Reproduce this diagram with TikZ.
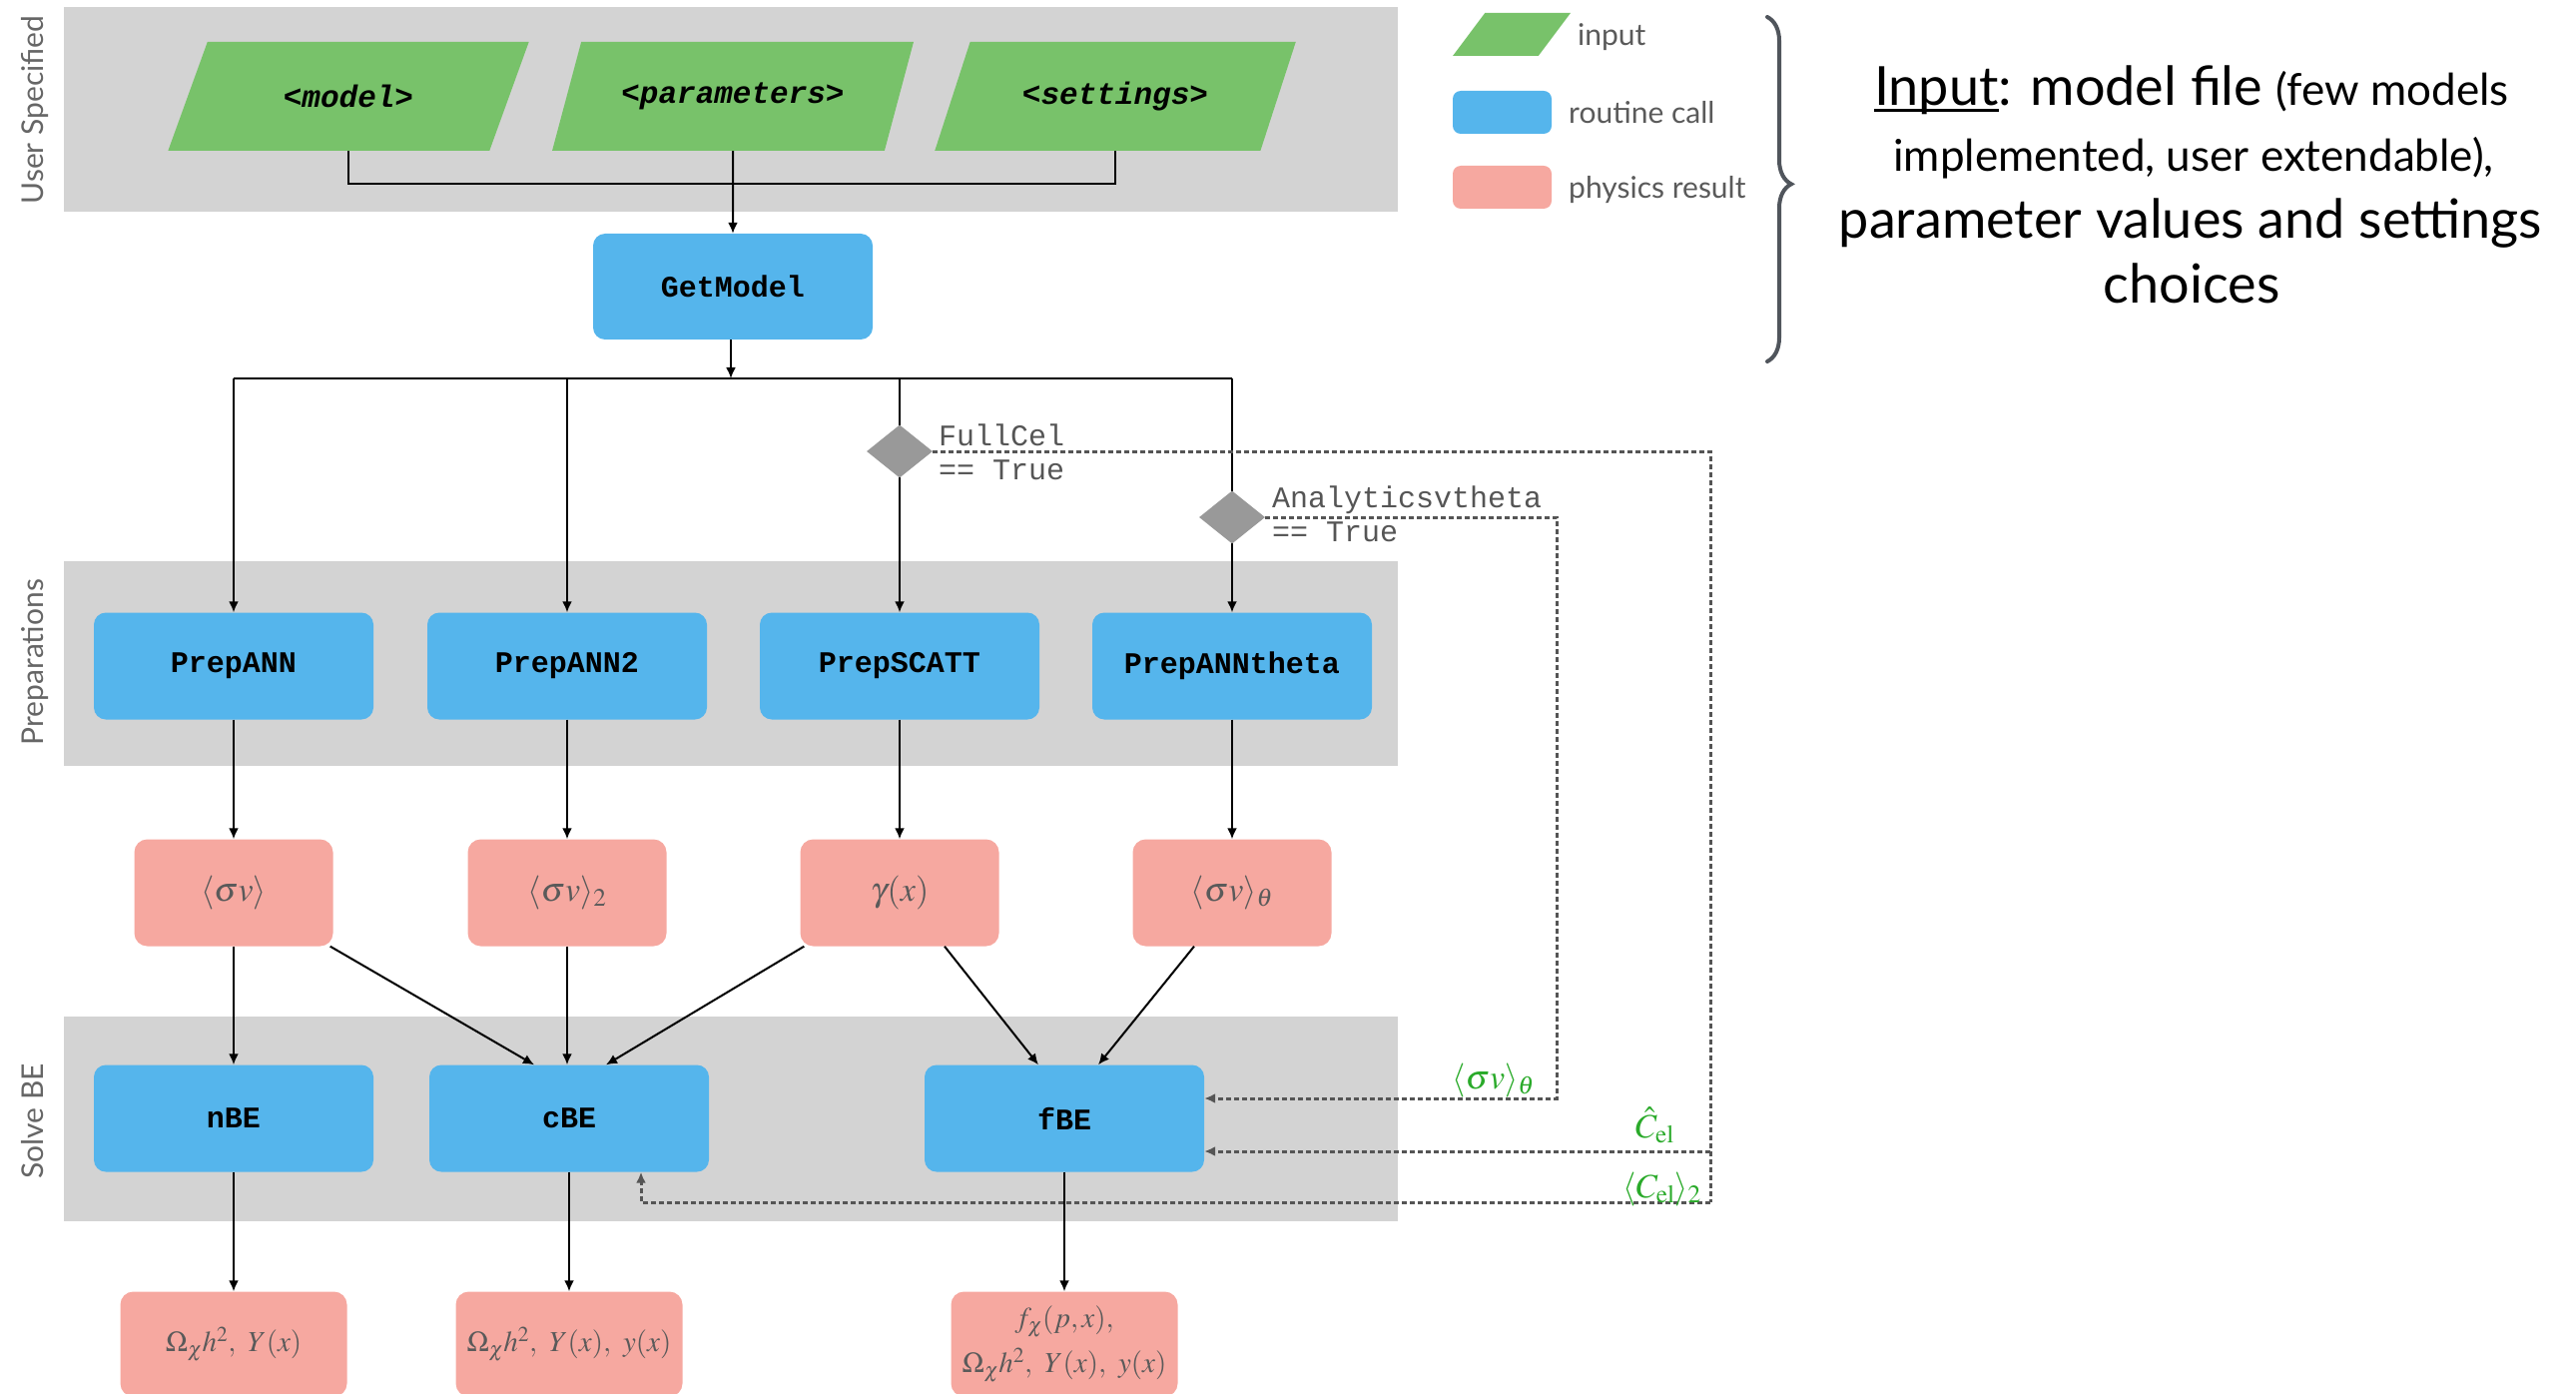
\documentclass[tikz,border=0pt]{standalone}
\usepackage{mathptmx}
\usepackage[no-math]{fontspec}
\usetikzlibrary{shapes.geometric,arrows.meta,decorations.pathreplacing,calc}
\newfontfamily\gillfont{Lato}
\newfontfamily\codefont{Liberation Mono}

% underline close to the baseline, as in a slide heading
\newcommand\headul[1]{\setbox0\hbox{#1}\rlap{\rule[-6pt]{\wd0}{3pt}}\box0}

\definecolor{bandgray}{HTML}{D3D3D3}
\definecolor{ingreen}{HTML}{78C26A}
\definecolor{callblue}{HTML}{55B5EC}
\definecolor{respink}{HTML}{F6A8A0}
\definecolor{diagray}{HTML}{999999}
\definecolor{dotgray}{HTML}{555555}
\definecolor{labgray}{HTML}{666666}
\definecolor{mathgray}{HTML}{5A5A5A}
\definecolor{labgreen}{HTML}{2AAA2A}
\definecolor{bracegray}{HTML}{50555C}

\tikzset{
  bandlabel/.style={rotate=90, anchor=base, text=labgray, font=\gillfont\fontsize{30}{36}\selectfont},
  inputbox/.style={trapezium, trapezium left angle=55, trapezium right angle=125,
    trapezium stretches=true, fill=ingreen, minimum width=362pt, minimum height=109pt,
    inner sep=2pt, font=\codefont\bfseries\itshape\fontsize{31}{36}\selectfont},
  callbox/.style={rectangle, rounded corners=12pt, fill=callblue, minimum width=280pt,
    minimum height=107pt, inner sep=0pt, font=\codefont\bfseries\fontsize{30}{36}\selectfont},
  resbox/.style={rectangle, rounded corners=13pt, fill=respink, minimum width=199pt,
    minimum height=107pt, inner sep=0pt, text=mathgray, font=\fontsize{34}{42}\selectfont},
  outbox/.style={resbox, minimum width=227pt, minimum height=105pt, font=\fontsize{29}{40}\selectfont},
  cond/.style={diamond, fill=diagray, minimum width=66pt, minimum height=53pt, inner sep=0pt},
  condtext/.style={anchor=base west, text=dotgray, inner sep=0pt, font=\codefont\fontsize{30}{36}\selectfont},
  wire/.style={line width=2pt, draw=black},
  arr/.style={wire, -{Latex[length=11pt,width=10pt]}},
  dotline/.style={draw=dotgray, line width=3pt, dash pattern=on 5pt off 3pt},
  dotarr/.style={dotline, -{Latex[length=11pt,width=10pt]}},
  greenlab/.style={anchor=base east, inner sep=0pt, text=labgreen, font=\fontsize{34}{40}\selectfont},
  legtext/.style={anchor=base west, inner sep=0pt, text=mathgray, font=\gillfont\fontsize{30}{36}\selectfont},
  bigtext/.style={anchor=base, inner sep=0pt, text=black, font=\gillfont\fontsize{54}{64}\selectfont},
}

\begin{document}
\begin{tikzpicture}[x=1pt,y=-1pt]
\useasboundingbox (0,0) rectangle (2580,1396);

% stage bands
\fill[bandgray] (64,7) rectangle (1400,212);
\fill[bandgray] (64,562) rectangle (1400,767);
\fill[bandgray] (64,1018) rectangle (1400,1223);
\node[bandlabel] (lbUser) at (43,110) {User Specified};
\node[bandlabel] (lbPrep) at (43,663) {Preparations};
\node[bandlabel] (lbSolve) at (43,1123) {Solve BE};

% inputs
\node[inputbox] (model) at (349,96.5) {<model>};
\node[inputbox] (params) at (734,96.5) {<parameters>};
\node[inputbox] (sett) at (1117,96.5) {<settings>};
\coordinate (join) at (734,184);

% model setup
\node[callbox, minimum height=106pt] (getmodel) at (734,287) {GetModel};
\coordinate (bus) at (734,379);

% preparation routines
\node[callbox] (pann) at (234,667) {PrepANN};
\node[callbox] (pann2) at (568,667) {PrepANN2};
\node[callbox] (pscatt) at (901,667) {PrepSCATT};
\node[callbox] (ptheta) at (1234,667) {PrepANNtheta};

% intermediate physics results
\node[resbox] (sv) at (234,894) {$\langle\sigma v\rangle$};
\node[resbox] (sv2) at (568,894) {$\langle\sigma v\rangle_2$};
\node[resbox] (gam) at (901,894) {$\gamma(x)$};
\node[resbox] (svt) at (1234,894) {$\langle\sigma v\rangle_\theta$};

% Boltzmann equation solvers
\node[callbox] (nbe) at (234,1120) {nBE};
\node[callbox] (cbe) at (570,1120) {cBE};
\node[callbox] (fbe) at (1066,1120) {fBE};

% final outputs
\node[outbox] (onbe) at (234,1346) {$\Omega_\chi h^2,\ Y(x)$};
\node[outbox] (ocbe) at (570,1346) {$\Omega_\chi h^2,\ Y(x),\ y(x)$};
\node[outbox, align=center] (ofbe) at (1066,1346) {$f_\chi(p,x),$\\[5pt]$\Omega_\chi h^2,\ Y(x),\ y(x)$};

% input wiring
\draw[wire] (model.south) -- (model.south |- join) -- (sett.south |- join) -- (sett.south);
\draw[arr] (params.south) -- (getmodel.north);
\draw[arr] ([xshift=-2pt]getmodel.south) -- ([xshift=-2pt]bus);
\draw[wire] (pann.north |- bus) -- (ptheta.north |- bus);
\draw[arr] (pann.north |- bus) -- (pann.north);
\draw[arr] (pann2.north |- bus) -- (pann2.north);
\draw[arr] (pscatt.north |- bus) -- (pscatt.north);
\draw[arr] (ptheta.north |- bus) -- (ptheta.north);

% switches
\node[cond] (fullcel) at (901,452) {};
\node[cond] (anth) at (1234,518) {};
\node[condtext] (fctxt1) at (940,446) {FullCel};
\node[condtext] (fctxt2) at (940,480) {== True};
\node[condtext] (antxt1) at (1274,508) {Analyticsvtheta};
\node[condtext] (antxt2) at (1274,542) {== True};

% preparation outputs
\draw[arr] (pann.south) -- (sv.north);
\draw[arr] (pann2.south) -- (sv2.north);
\draw[arr] (pscatt.south) -- (gam.north);
\draw[arr] (ptheta.south) -- (svt.north);

% feeding the solvers
\draw[arr] (sv.south) -- (nbe.north);
\draw[arr] ([xshift=-3pt]sv.south east) -- ([xshift=-35pt]cbe.north);
\draw[arr] (sv2.south) -- ([xshift=-2pt]cbe.north);
\draw[arr] ([xshift=4pt]gam.south west) -- ([xshift=37pt]cbe.north);
\draw[arr] ([xshift=45pt]gam.south) -- ([xshift=-26pt]fbe.north);
\draw[arr] ([xshift=-38pt]svt.south) -- ([xshift=34pt]fbe.north);

% solver outputs
\draw[arr] (nbe.south) -- (onbe.north);
\draw[arr] (cbe.south) -- (ocbe.north);
\draw[arr] (fbe.south) -- (ofbe.north);

% optional inputs
\coordinate (thetaDrop) at (1559,1100);
\coordinate (celDrop) at (1713,1204);
\draw[dotarr] (anth.east) -| (thetaDrop) -- ([yshift=20pt]fbe.east);
\draw[dotline] (fullcel.east) -| (celDrop);
\draw[dotarr] (celDrop |- 0,1153) -- ([yshift=-33pt]fbe.east);
\draw[dotarr] (celDrop) -| ([xshift=72pt]cbe.south);
\node[greenlab] (lsvt) at (1537,1090) {$\langle\sigma v\rangle_\theta$};
\node[greenlab] (lcel) at (1677,1139) {$\hat C_{\mathrm{el}}$};
\node[greenlab] (lcel2) at (1704,1199) {$\langle C_{\mathrm{el}}\rangle_2$};

% legend
\node[trapezium, trapezium left angle=59, trapezium right angle=121, trapezium stretches=true,
  fill=ingreen, minimum width=118pt, minimum height=43pt, inner sep=2pt] (legIn) at (1514,34.5) {};
\node[rectangle, rounded corners=8pt, fill=callblue, minimum width=99pt, minimum height=43pt] (legCall) at (1504.5,112.5) {};
\node[rectangle, rounded corners=8pt, fill=respink, minimum width=99pt, minimum height=43pt] (legRes) at (1504.5,187.5) {};
\node[legtext] (legInT) at (1580,46) {input};
\node[legtext] (legCallT) at (1571,124) {routine call};
\node[legtext] (legResT) at (1571,199) {physics result};

% brace and description
\draw[bracegray, line width=4pt, line cap=round, decorate,
  decoration={brace, amplitude=24pt, aspect=0.485}] (1770,17) -- (1770,362);
\node[bigtext] (desc1) at (2195,106) {\headul{Input}: model file {\fontsize{44}{52}\selectfont (few models}};
\node[bigtext, font=\gillfont\fontsize{44}{52}\selectfont] (desc2) at (2197,172) {implemented, user extendable),};
\node[bigtext] (desc3) at (2194,239) {parameter values and settings};
\node[bigtext] (desc4) at (2195,304) {choices};
\end{tikzpicture}
\end{document}
